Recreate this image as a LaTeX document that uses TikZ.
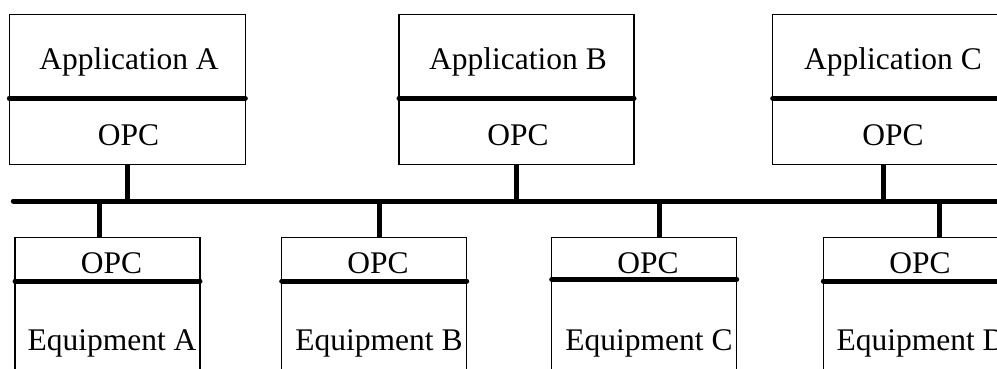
\documentclass[tikz,border=0pt]{standalone}
\usepackage{fontspec}
\setmainfont{Liberation Serif}
\begin{document}
\begin{tikzpicture}[x=1pt,y=-1pt,
  box/.style={draw,line width=1.2pt,inner sep=0pt,outer sep=0pt,anchor=north west},
  appbox/.style={box,minimum height=150pt},
  eqbox/.style={box,minimum width=185pt,minimum height=150pt},
  sepline/.style={line width=5pt,line cap=round},
  link/.style={line width=5pt},
  lbl/.style={font=\fontsize{31.5}{38}\selectfont,anchor=base,inner sep=0pt}]
\useasboundingbox (0,0) rectangle (997,369);

% application boxes
\node[appbox,minimum width=236pt] (appA) at (9.3,14.3) {};
\node[appbox,minimum width=235pt] (appB) at (399,14.3) {};
\node[appbox,minimum width=240pt] (appC) at (772.7,14.3) {};
\foreach \b in {appA,appB,appC}
  \draw[sepline] (\b.west |- 0,98.3) -- (\b.east |- 0,98.3);

\node[lbl] (appAtxt) at (129,70) {Application A};
\node[lbl] (appAopc) at (128.5,145) {OPC};
\node[lbl] (appBtxt) at (518,70) {Application B};
\node[lbl] (appBopc) at (518,145) {OPC};
\node[lbl] (appCtxt) at (893,70) {Application C};
\node[lbl] (appCopc) at (893,145) {OPC};

% equipment boxes
\node[eqbox] (eqA) at (15,237.3) {};
\node[eqbox] (eqB) at (281.7,237.3) {};
\node[eqbox] (eqC) at (551.7,237.3) {};
\node[eqbox] (eqD) at (823.3,237.3) {};
\foreach \b in {eqA,eqB,eqD}
  \draw[sepline] (\b.west |- 0,281) -- (\b.east |- 0,281);
\draw[sepline] (eqC.west |- 0,279.3) -- (eqC.east |- 0,279.3);

\node[lbl] (eqAopc) at (111.5,273.3) {OPC};
\node[lbl] (eqAtxt) at (112,350) {Equipment A};
\node[lbl] (eqBopc) at (378,273.3) {OPC};
\node[lbl] (eqBtxt) at (379,350) {Equipment B};
\node[lbl] (eqCopc) at (648,273.3) {OPC};
\node[lbl] (eqCtxt) at (649,350) {Equipment C};
\node[lbl] (eqDopc) at (920,273.3) {OPC};
\node[lbl] (eqDtxt) at (921,350) {Equipment D};

% bus
\coordinate (busL) at (13.3,201);
\coordinate (busR) at (1005,201);
\draw[link,line cap=round] (busL) -- (busR);

% taps onto the bus
\draw[link] (appA.south) -- (appA.south |- busL);
\draw[link] (appB.south) -- (appB.south |- busL);
\draw[link] (883,0 |- appC.south) -- (883,0 |- busL);
\draw[link] (99,0 |- busL) -- (99,0 |- eqA.north);
\draw[link] (379,0 |- busL) -- (379,0 |- eqB.north);
\draw[link] (659,0 |- busL) -- (659,0 |- eqC.north);
\draw[link] (939,0 |- busL) -- (939,0 |- eqD.north);
\end{tikzpicture}
\end{document}
